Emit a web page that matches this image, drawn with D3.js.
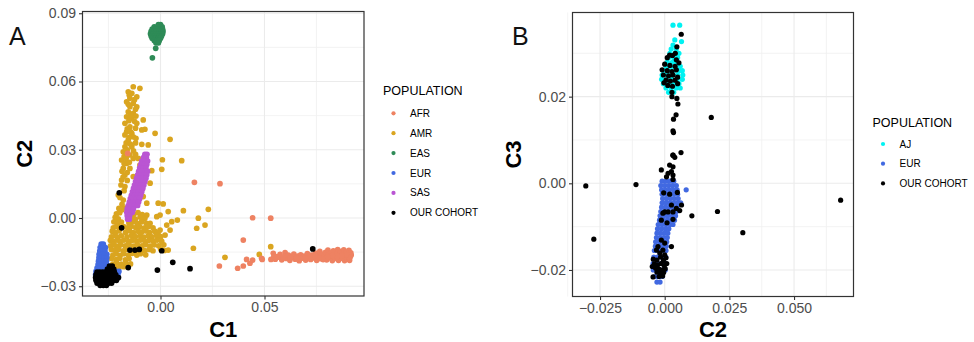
<!DOCTYPE html>
<html>
<head>
<meta charset="utf-8">
<script src="https://cdn.jsdelivr.net/npm/d3@7"></script>
<style>
  body { margin: 0; background: #fff; }
  svg { display: block; font-family: "Liberation Sans", Arial, Helvetica, sans-serif; }
</style>
</head>
<body>
<svg id="chart" width="974" height="342"></svg>
<script>
// ---------------- Panel A: C1 vs C2, 1000 Genomes super-populations + cohort ----------------
const popsA = ["AFR", "AMR", "EAS", "EUR", "SAS", "OUR COHORT"];

const afrA = [
  [0.0371,-0.0221],[0.0398,-0.0211],[0.0430,-0.0199],[0.0443,-0.0185],[0.0489,-0.0182],
  [0.0398,-0.0097],[0.0531,-0.0182],[0.0283,-0.0211],[0.0443,0.0001],[0.0530,-0.0001],
  [0.0163,0.0157],[0.0286,0.0151],[-0.0158,0.0284],[0.0414,-0.0182],[0.0486,-0.0177],
  [0.0542,-0.0155],[0.0599,-0.0152],
  [0.0545,-0.0168],[0.0552,-0.0181],[0.0568,-0.0172],[0.0575,-0.0160],[0.0583,-0.0184],[0.0597,-0.0170],
  [0.0606,-0.0178],[0.0615,-0.0163],[0.0622,-0.0186],[0.0633,-0.0172],[0.0641,-0.0159],[0.0648,-0.0181],
  [0.0659,-0.0168],[0.0667,-0.0188],[0.0674,-0.0162],[0.0682,-0.0176],[0.0691,-0.0167],[0.0698,-0.0185],
  [0.0706,-0.0157],[0.0713,-0.0173],[0.0722,-0.0182],[0.0729,-0.0163],[0.0737,-0.0175],[0.0745,-0.0154],
  [0.0751,-0.0186],[0.0758,-0.0168],[0.0766,-0.0147],[0.0772,-0.0179],[0.0779,-0.0160],[0.0786,-0.0170],
  [0.0793,-0.0151],[0.0799,-0.0184],[0.0805,-0.0141],[0.0808,-0.0164],[0.0814,-0.0175],[0.0820,-0.0153],
  [0.0826,-0.0187],[0.0831,-0.0144],[0.0835,-0.0167],[0.0841,-0.0178],[0.0847,-0.0156],[0.0852,-0.0139],
  [0.0856,-0.0186],[0.0861,-0.0168],[0.0866,-0.0148],[0.0871,-0.0177],[0.0876,-0.0159],[0.0881,-0.0140],
  [0.0885,-0.0187],[0.0889,-0.0169],[0.0893,-0.0150],[0.0897,-0.0180],[0.0902,-0.0160],[0.0906,-0.0142],
  [0.0909,-0.0186],[0.0912,-0.0171],[0.0915,-0.0153],[0.0917,-0.0163],[0.0907,-0.0172],[0.0893,-0.0162],
  [0.0872,-0.0166],[0.0849,-0.0168],[0.0826,-0.0165],[0.0803,-0.0173],[0.0782,-0.0183],[0.0762,-0.0176],
  [0.0741,-0.0165],[0.0718,-0.0164],[0.0695,-0.0176],[0.0671,-0.0178],[0.0655,-0.0176],[0.0625,-0.0175],
  [0.0590,-0.0176],[0.0560,-0.0170]
];

const amrA = [
  [-0.0131,0.0577],[-0.0099,0.0570],[-0.0155,0.0555],[-0.0138,0.0548],[-0.0114,0.0533],[-0.0147,0.0526],
  [-0.0163,0.0511],[-0.0131,0.0504],[-0.0147,0.0489],[-0.0114,0.0489],[-0.0155,0.0467],[-0.0131,0.0460],
  [-0.0163,0.0445],[-0.0138,0.0438],[-0.0114,0.0416],[-0.0083,0.0431],[-0.0171,0.0416],[-0.0147,0.0401],
  [-0.0075,0.0390],[-0.0090,0.0387],[-0.0163,0.0379],[-0.0138,0.0372],[-0.0171,0.0365],[-0.0131,0.0357],
  [-0.0026,0.0372],[0.0046,0.0346],[-0.0155,0.0343],[-0.0090,0.0324],[-0.0059,0.0321],[-0.0171,0.0313],
  [-0.0138,0.0313],[-0.0179,0.0291],[-0.0147,0.0277],[-0.0187,0.0255],[-0.0163,0.0240],[-0.0131,0.0262],
  [-0.0107,0.0262],[-0.0099,0.0233],[-0.0179,0.0218],[-0.0147,0.0218],[-0.0042,0.0208],[0.0006,0.0214],
  [0.0102,0.0252],[0.0009,0.0256],[-0.0171,0.0189],[-0.0131,0.0182],[-0.0187,0.0167],[-0.0050,0.0153],
  [-0.0171,0.0138],[-0.0203,0.0101],[-0.0083,0.0094],[-0.0179,0.0079],[-0.0066,0.0065],[-0.0011,0.0065],
  [0.0013,0.0062],
  [-0.0150,0.0540],[-0.0125,0.0520],[-0.0155,0.0500],[-0.0120,0.0478],[-0.0145,0.0452],[-0.0118,0.0448],
  [-0.0152,0.0428],[-0.0125,0.0425],[-0.0160,0.0392],[-0.0120,0.0395],[-0.0145,0.0380],[-0.0150,0.0355],
  [-0.0118,0.0350],[-0.0165,0.0330],[-0.0145,0.0325],[-0.0120,0.0330],[-0.0160,0.0300],[-0.0130,0.0295],
  [-0.0175,0.0270],[-0.0120,0.0280],[-0.0165,0.0262],[-0.0175,0.0240],[-0.0150,0.0245],[-0.0185,0.0205],
  [-0.0160,0.0200],[-0.0180,0.0180],[-0.0160,0.0165],[-0.0190,0.0145],[-0.0175,0.0120],[-0.0195,0.0090],
  [-0.0185,0.0060],
  [0.0037,0.0028],[0.0110,0.0032],[0.0230,0.0038],[0.0081,-0.0009],[0.0182,-0.0001],[0.0214,-0.0031],
  [0.0174,-0.0045],[0.0030,-0.0031],[0.0054,-0.0016],[-0.0018,0.0006],[-0.0002,0.0013],[-0.0066,0.0013],
  [-0.0075,-0.0001],[-0.0050,-0.0023],[-0.0002,-0.0053],[0.0046,-0.0053],[0.0022,-0.0075],[0.0158,-0.0133],
  [0.0037,-0.0141],[0.0310,-0.0173],[0.0530,-0.0126],[0.0475,-0.0160],
  [-0.0200,0.0042],[-0.0186,0.0036],[-0.0171,0.0044],
  [-0.0212,0.0018],[-0.0196,0.0023],[-0.0128,0.0017],[-0.0108,0.0024],[-0.0088,0.0015],
  [-0.0218,0.0003],[-0.0203,-0.0004],[-0.0138,0.0002],[-0.0121,-0.0005],[-0.0098,0.0004],[-0.0082,-0.0003],
  [-0.0224,-0.0017],[-0.0207,-0.0024],[-0.0188,-0.0018],[-0.0152,-0.0022],[-0.0133,-0.0016],[-0.0112,-0.0023],
  [-0.0091,-0.0017],[-0.0068,-0.0024],
  [-0.0227,-0.0043],[-0.0211,-0.0037],[-0.0193,-0.0044],[-0.0177,-0.0038],[-0.0158,-0.0043],[-0.0141,-0.0036],
  [-0.0119,-0.0042],[-0.0101,-0.0038],[-0.0079,-0.0044],[-0.0058,-0.0037],[-0.0036,-0.0043],
  [-0.0232,-0.0058],[-0.0217,-0.0064],[-0.0199,-0.0057],[-0.0168,-0.0063],[-0.0149,-0.0056],[-0.0131,-0.0064],
  [-0.0108,-0.0058],[-0.0091,-0.0062],[-0.0069,-0.0057],[-0.0052,-0.0064],[-0.0028,-0.0058],[-0.0011,-0.0063],
  [-0.0236,-0.0083],[-0.0219,-0.0077],[-0.0206,-0.0084],[-0.0188,-0.0078],[-0.0161,-0.0083],[-0.0139,-0.0076],
  [-0.0121,-0.0082],[-0.0098,-0.0077],[-0.0081,-0.0084],[-0.0059,-0.0078],[-0.0041,-0.0083],[-0.0019,-0.0076],
  [0.0001,-0.0082],
  [-0.0241,-0.0098],[-0.0226,-0.0104],[-0.0209,-0.0097],[-0.0194,-0.0103],[-0.0176,-0.0097],[-0.0154,-0.0104],
  [-0.0136,-0.0098],[-0.0114,-0.0103],[-0.0096,-0.0097],[-0.0074,-0.0104],[-0.0056,-0.0098],[-0.0034,-0.0102],
  [-0.0016,-0.0097],[0.0006,-0.0103],
  [-0.0240,-0.0123],[-0.0224,-0.0117],[-0.0211,-0.0124],[-0.0191,-0.0118],[-0.0169,-0.0123],[-0.0151,-0.0117],
  [-0.0129,-0.0124],[-0.0111,-0.0118],[-0.0089,-0.0123],[-0.0071,-0.0117],[-0.0049,-0.0124],[-0.0031,-0.0118],
  [-0.0009,-0.0122],[0.0016,-0.0118],
  [-0.0236,-0.0138],[-0.0217,-0.0143],[-0.0201,-0.0137],[-0.0179,-0.0144],[-0.0161,-0.0137],[-0.0116,-0.0144],
  [-0.0094,-0.0137],[-0.0076,-0.0143],[-0.0054,-0.0138],[-0.0036,-0.0144],[0.0001,-0.0137],[0.0019,-0.0143],
  [-0.0229,-0.0163],[-0.0213,-0.0157],[-0.0194,-0.0164],[-0.0176,-0.0157],[-0.0154,-0.0163],[-0.0136,-0.0156],
  [-0.0114,-0.0163],[-0.0096,-0.0157],[-0.0071,-0.0162],
  [-0.0236,-0.0178],[-0.0214,-0.0183],[-0.0196,-0.0177],[-0.0169,-0.0184],[-0.0151,-0.0178],
  [-0.0229,-0.0203],[-0.0211,-0.0197],[-0.0189,-0.0203],[-0.0166,-0.0198],[-0.0144,-0.0202],
  [-0.0221,-0.0213],[-0.0199,-0.0218],[-0.0176,-0.0214]
];

const easA = [
  [-0.0010,0.0850],[0.0000,0.0850],
  [-0.0030,0.0840],[-0.0015,0.0840],[0.0000,0.0840],[0.0008,0.0840],
  [-0.0040,0.0830],[-0.0025,0.0830],[-0.0012,0.0830],[0.0000,0.0830],[0.0010,0.0830],
  [-0.0045,0.0820],[-0.0032,0.0820],[-0.0020,0.0820],[-0.0008,0.0820],[0.0003,0.0820],[0.0012,0.0820],
  [-0.0048,0.0810],[-0.0035,0.0810],[-0.0022,0.0810],[-0.0010,0.0810],[0.0002,0.0810],[0.0010,0.0810],
  [-0.0045,0.0800],[-0.0030,0.0800],[-0.0018,0.0800],[-0.0005,0.0800],[0.0005,0.0800],
  [-0.0040,0.0790],[-0.0025,0.0790],[-0.0012,0.0790],[0.0000,0.0790],
  [-0.0030,0.0780],[-0.0018,0.0780],[-0.0006,0.0780],
  [-0.0022,0.0770],[-0.0010,0.0770],
  [-0.0023,0.0746],[-0.0039,0.0704]
];

const eurA = [
  [-0.0285,-0.0115],[-0.0275,-0.0115],
  [-0.0290,-0.0130],[-0.0278,-0.0130],[-0.0265,-0.0130],
  [-0.0292,-0.0145],[-0.0280,-0.0145],[-0.0267,-0.0145],
  [-0.0295,-0.0160],[-0.0282,-0.0160],[-0.0268,-0.0160],[-0.0258,-0.0160],
  [-0.0296,-0.0175],[-0.0283,-0.0175],[-0.0270,-0.0175],[-0.0258,-0.0175],
  [-0.0298,-0.0190],[-0.0285,-0.0190],[-0.0272,-0.0190],[-0.0260,-0.0190],
  [-0.0300,-0.0205],[-0.0287,-0.0205],[-0.0273,-0.0205],[-0.0260,-0.0205],
  [-0.0305,-0.0220],[-0.0290,-0.0220],[-0.0275,-0.0220],[-0.0262,-0.0220],
  [-0.0310,-0.0235],[-0.0295,-0.0235],[-0.0278,-0.0235],[-0.0255,-0.0235],[-0.0215,-0.0235],[-0.0200,-0.0235],
  [-0.0312,-0.0250],[-0.0300,-0.0250],[-0.0205,-0.0250],
  [-0.0210,-0.0265]
];

const sasA = [
  [-0.0075,0.0280],[-0.0065,0.0280],
  [-0.0082,0.0265],[-0.0068,0.0265],
  [-0.0090,0.0250],[-0.0075,0.0250],[-0.0062,0.0250],
  [-0.0095,0.0235],[-0.0080,0.0235],[-0.0066,0.0235],
  [-0.0100,0.0220],[-0.0085,0.0220],[-0.0070,0.0220],
  [-0.0105,0.0205],[-0.0090,0.0205],[-0.0075,0.0205],[-0.0062,0.0205],
  [-0.0110,0.0190],[-0.0095,0.0190],[-0.0080,0.0190],[-0.0066,0.0190],
  [-0.0115,0.0175],[-0.0100,0.0175],[-0.0085,0.0175],[-0.0070,0.0175],
  [-0.0120,0.0160],[-0.0105,0.0160],[-0.0090,0.0160],[-0.0075,0.0160],
  [-0.0125,0.0145],[-0.0110,0.0145],[-0.0095,0.0145],[-0.0080,0.0145],
  [-0.0130,0.0130],[-0.0115,0.0130],[-0.0100,0.0130],[-0.0085,0.0130],
  [-0.0135,0.0115],[-0.0120,0.0115],[-0.0105,0.0115],[-0.0090,0.0115],
  [-0.0140,0.0100],[-0.0125,0.0100],[-0.0110,0.0100],[-0.0095,0.0100],
  [-0.0145,0.0085],[-0.0130,0.0085],[-0.0115,0.0085],[-0.0100,0.0085],
  [-0.0150,0.0070],[-0.0135,0.0070],[-0.0120,0.0070],[-0.0105,0.0070],
  [-0.0155,0.0055],[-0.0140,0.0055],[-0.0125,0.0055],[-0.0110,0.0055],
  [-0.0160,0.0040],[-0.0145,0.0040],[-0.0130,0.0040],
  [-0.0162,0.0025],[-0.0148,0.0025],[-0.0135,0.0025],
  [-0.0160,0.0010],[-0.0148,0.0010],
  [-0.0158,-0.0005],[-0.0150,-0.0005]
];

const cohortA = [
  [-0.0198,0.0111],[-0.0187,-0.0043],[-0.0147,-0.0141],[-0.0123,-0.0141],[-0.0102,-0.0138],
  [0.0006,-0.0144],[0.0059,-0.0195],[-0.0155,-0.0218],[-0.0015,-0.0229],[0.0142,-0.0223],[0.0732,-0.0136],
  [-0.0245,-0.0211],[-0.0232,-0.0211],
  [-0.0255,-0.0225],[-0.0240,-0.0225],[-0.0225,-0.0225],
  [-0.0305,-0.0238],[-0.0292,-0.0238],[-0.0278,-0.0238],[-0.0265,-0.0238],[-0.0250,-0.0238],[-0.0235,-0.0238],[-0.0222,-0.0238],
  [-0.0310,-0.0250],[-0.0297,-0.0250],[-0.0283,-0.0250],[-0.0270,-0.0250],[-0.0256,-0.0250],[-0.0242,-0.0250],[-0.0228,-0.0250],[-0.0215,-0.0250],
  [-0.0312,-0.0262],[-0.0298,-0.0262],[-0.0284,-0.0262],[-0.0270,-0.0262],[-0.0256,-0.0262],[-0.0242,-0.0262],[-0.0228,-0.0262],[-0.0214,-0.0262],[-0.0202,-0.0262],
  [-0.0310,-0.0274],[-0.0296,-0.0274],[-0.0282,-0.0274],[-0.0268,-0.0274],[-0.0254,-0.0274],[-0.0240,-0.0274],[-0.0226,-0.0274],[-0.0212,-0.0274],
  [-0.0305,-0.0286],[-0.0291,-0.0286],[-0.0277,-0.0286],[-0.0263,-0.0286],[-0.0249,-0.0286],[-0.0235,-0.0286],
  [-0.0290,-0.0296],[-0.0275,-0.0296],[-0.0260,-0.0296]
];

const ticksAx = [0.00, 0.05];
const tickLabelsAx = ["0.00", "0.05"];
const minorAx = [-0.025, 0.025, 0.075];
const ticksAy = [-0.03, 0.00, 0.03, 0.06, 0.09];
const tickLabelsAy = ["\u22120.03", "0.00", "0.03", "0.06", "0.09"];
const minorAy = [-0.015, 0.015, 0.045, 0.075];

// ---------------- Panel B: C2 vs C3, Ashkenazi / European reference + cohort ----------------
const popsB = ["AJ", "EUR", "OUR COHORT"];

const ajB = [
  [0.0032,0.0365],[0.0058,0.0365],[0.0039,0.0331],[0.0065,0.0327],[0.0032,0.0319],
  [0.0025,0.0310],[0.0045,0.0310],
  [0.0020,0.0300],[0.0040,0.0300],[0.0055,0.0300],
  [0.0015,0.0290],[0.0035,0.0290],[0.0050,0.0290],
  [0.0010,0.0280],[0.0030,0.0280],[0.0045,0.0280],
  [0.0005,0.0270],[0.0025,0.0270],[0.0045,0.0270],[0.0060,0.0270],
  [-0.0005,0.0260],[0.0015,0.0260],[0.0035,0.0260],[0.0055,0.0260],[0.0068,0.0260],
  [-0.0010,0.0250],[0.0010,0.0250],[0.0030,0.0250],[0.0050,0.0250],[0.0070,0.0250],
  [-0.0012,0.0240],[0.0008,0.0240],[0.0028,0.0240],[0.0048,0.0240],[0.0068,0.0240],
  [-0.0005,0.0230],[0.0015,0.0230],[0.0035,0.0230],[0.0055,0.0230],
  [0.0005,0.0220],[0.0025,0.0220],[0.0045,0.0220],[0.0060,0.0220],
  [0.0015,0.0210],[0.0035,0.0210]
];

const eurB = [
  [-0.0010,0.0005],[0.0005,0.0005],[0.0020,0.0005],[0.0035,0.0005],
  [-0.0015,-0.0005],[0.0000,-0.0005],[0.0015,-0.0005],[0.0030,-0.0005],[0.0045,-0.0005],
  [-0.0012,-0.0015],[0.0003,-0.0015],[0.0018,-0.0015],[0.0033,-0.0015],[0.0048,-0.0015],[0.0083,-0.0015],
  [-0.0010,-0.0025],[0.0005,-0.0025],[0.0020,-0.0025],[0.0035,-0.0025],[0.0050,-0.0025],
  [-0.0008,-0.0035],[0.0007,-0.0035],[0.0022,-0.0035],[0.0037,-0.0035],[0.0052,-0.0035],
  [-0.0010,-0.0045],[0.0005,-0.0045],[0.0020,-0.0045],[0.0035,-0.0045],[0.0050,-0.0045],[0.0062,-0.0045],
  [-0.0012,-0.0055],[0.0003,-0.0055],[0.0018,-0.0055],[0.0033,-0.0055],[0.0048,-0.0055],
  [-0.0015,-0.0065],[0.0000,-0.0065],[0.0015,-0.0065],[0.0030,-0.0065],[0.0045,-0.0065],
  [-0.0018,-0.0075],[-0.0003,-0.0075],[0.0012,-0.0075],[0.0027,-0.0075],[0.0042,-0.0075],
  [-0.0020,-0.0085],[-0.0005,-0.0085],[0.0010,-0.0085],[0.0025,-0.0085],[0.0038,-0.0085],
  [-0.0025,-0.0095],[-0.0010,-0.0095],[0.0005,-0.0095],[0.0020,-0.0095],[0.0032,-0.0095],
  [-0.0028,-0.0105],[-0.0013,-0.0105],[0.0002,-0.0105],[0.0016,-0.0105],
  [-0.0030,-0.0115],[-0.0015,-0.0115],[0.0000,-0.0115],[0.0012,-0.0115],
  [-0.0032,-0.0125],[-0.0018,-0.0125],[-0.0004,-0.0125],[0.0010,-0.0125],
  [-0.0035,-0.0135],[-0.0020,-0.0135],[-0.0006,-0.0135],[0.0008,-0.0135],
  [-0.0036,-0.0145],[-0.0022,-0.0145],[-0.0008,-0.0145],[0.0006,-0.0145],
  [-0.0040,-0.0155],[-0.0025,-0.0155],[-0.0010,-0.0155],[0.0005,-0.0155],
  [-0.0042,-0.0170],[-0.0028,-0.0170],[-0.0012,-0.0170],[0.0004,-0.0170],
  [-0.0045,-0.0185],[-0.0030,-0.0185],[-0.0015,-0.0185],[0.0003,-0.0185],
  [-0.0044,-0.0200],[-0.0030,-0.0200],[-0.0015,-0.0200],[0.0002,-0.0200],
  [-0.0038,-0.0215],[-0.0025,-0.0215],[-0.0010,-0.0215],
  [-0.0030,-0.0228],[-0.0018,-0.0228]
];

const cohortB = [
  [0.0064,0.0344],[0.0047,0.0315],[0.0041,0.0300],[0.0028,0.0200],[0.0047,0.0196],[0.0051,0.0183],
  [0.0044,0.0158],[0.0034,0.0148],[0.0032,0.0121],[0.0034,0.0117],[0.0180,0.0152],[0.0032,0.0065],
  [0.0063,0.0071],[-0.0305,-0.0006],[-0.0111,-0.0003],[-0.0274,-0.0129],[0.0680,-0.0039],
  [0.0204,-0.0065],[0.0105,-0.0075],[0.0302,-0.0114],
  [0.0010,0.0290],[0.0030,0.0295],[0.0045,0.0285],[0.0000,0.0275],[0.0020,0.0272],[0.0040,0.0270],
  [0.0055,0.0278],[-0.0010,0.0262],[0.0010,0.0260],[0.0028,0.0258],[0.0045,0.0262],[-0.0005,0.0250],
  [0.0015,0.0248],[0.0032,0.0250],[0.0050,0.0245],[0.0005,0.0238],[0.0022,0.0236],[0.0040,0.0238],
  [0.0012,0.0226],[0.0030,0.0224],[0.0050,0.0230],[0.0028,0.0210],[0.0019,0.0296],[-0.0003,0.0232],
  [0.0032,0.0065],[0.0039,0.0060],
  [0.0019,0.0042],[0.0032,0.0038],[-0.0013,0.0031],[0.0026,0.0027],[0.0013,0.0023],[0.0032,0.0019],
  [0.0007,0.0015],[0.0032,0.0009],
  [-0.0004,-0.0022],[0.0019,-0.0025],[0.0049,-0.0021],
  [0.0026,-0.0050],[0.0065,-0.0050],[0.0045,-0.0058],
  [0.0000,-0.0066],[-0.0007,-0.0069],[0.0013,-0.0066],[0.0032,-0.0066],[0.0058,-0.0063],
  [-0.0013,-0.0085],[0.0009,-0.0091],[0.0032,-0.0083],
  [-0.0013,-0.0131],[-0.0026,-0.0146],[0.0000,-0.0138],[0.0026,-0.0146],
  [-0.0032,-0.0154],[-0.0019,-0.0161],[-0.0007,-0.0154],[0.0000,-0.0165],
  [-0.0044,-0.0175],[-0.0030,-0.0177],[-0.0016,-0.0170],[-0.0005,-0.0178],[0.0005,-0.0172],
  [-0.0040,-0.0186],[-0.0027,-0.0188],[-0.0014,-0.0185],[-0.0002,-0.0190],[0.0008,-0.0185],
  [-0.0048,-0.0192],[-0.0035,-0.0196],[-0.0022,-0.0198],[-0.0010,-0.0200],[0.0002,-0.0197],
  [-0.0030,-0.0205],[-0.0016,-0.0208],[-0.0004,-0.0206],
  [-0.0022,-0.0215],[-0.0008,-0.0214],[-0.0045,-0.0216]
];

const ticksBx = [-0.025, 0.000, 0.025, 0.050];
const tickLabelsBx = ["\u22120.025", "0.000", "0.025", "0.050"];
const minorBx = [-0.0375, -0.0125, 0.0125, 0.0375, 0.0625];
const ticksBy = [-0.02, 0.00, 0.02];
const tickLabelsBy = ["\u22120.02", "0.00", "0.02"];
const minorBy = [-0.01, 0.01, 0.03];

// ---------------- styling ----------------
const popColor = {
  "AFR": "#EE8262",
  "AMR": "#DAA520",
  "EAS": "#2E8B57",
  "EUR": "#4169E1",
  "SAS": "#BA55D3",
  "AJ": "#00F2F2",
  "OUR COHORT": "#000000"
};

const svg = d3.select("#chart");

function drawPanel(cfg) {
  const x = d3.scaleLinear().domain(cfg.xDomain).range([cfg.box.x0, cfg.box.x1]);
  const y = d3.scaleLinear().domain(cfg.yDomain).range([cfg.box.y1, cfg.box.y0]);
  const g = svg.append("g");

  g.append("rect")
    .attr("x", cfg.box.x0).attr("y", cfg.box.y0)
    .attr("width", cfg.box.x1 - cfg.box.x0).attr("height", cfg.box.y1 - cfg.box.y0)
    .attr("fill", "#fff");

  // minor grid
  g.selectAll(null).data(cfg.xMinor).join("line")
    .attr("x1", d => x(d)).attr("x2", d => x(d))
    .attr("y1", cfg.box.y0).attr("y2", cfg.box.y1)
    .attr("stroke", "#F0F0F0").attr("stroke-width", 0.8);
  g.selectAll(null).data(cfg.yMinor).join("line")
    .attr("y1", d => y(d)).attr("y2", d => y(d))
    .attr("x1", cfg.box.x0).attr("x2", cfg.box.x1)
    .attr("stroke", "#F0F0F0").attr("stroke-width", 0.8);
  // major grid
  g.selectAll(null).data(cfg.xTicks).join("line")
    .attr("x1", d => x(d)).attr("x2", d => x(d))
    .attr("y1", cfg.box.y0).attr("y2", cfg.box.y1)
    .attr("stroke", "#EBEBEB").attr("stroke-width", 1.1);
  g.selectAll(null).data(cfg.yTicks).join("line")
    .attr("y1", d => y(d)).attr("y2", d => y(d))
    .attr("x1", cfg.box.x0).attr("x2", cfg.box.x1)
    .attr("stroke", "#EBEBEB").attr("stroke-width", 1.1);

  // points
  cfg.series.forEach(s => {
    g.append("g").selectAll("circle").data(s.data).join("circle")
      .attr("cx", d => x(d[0])).attr("cy", d => y(d[1]))
      .attr("r", cfg.r).attr("fill", popColor[s.pop]);
  });

  // border
  g.append("rect")
    .attr("x", cfg.box.x0).attr("y", cfg.box.y0)
    .attr("width", cfg.box.x1 - cfg.box.x0).attr("height", cfg.box.y1 - cfg.box.y0)
    .attr("fill", "none").attr("stroke", "#333333").attr("stroke-width", 1.2);

  // axes
  const xAxis = d3.axisBottom(x).tickValues(cfg.xTicks)
    .tickFormat((d, i) => cfg.xLabels[i]).tickSize(3.5).tickPadding(3);
  const yAxis = d3.axisLeft(y).tickValues(cfg.yTicks)
    .tickFormat((d, i) => cfg.yLabels[i]).tickSize(3.5).tickPadding(3);
  const gx = g.append("g").attr("transform", `translate(0,${cfg.box.y1})`).call(xAxis);
  const gy = g.append("g").attr("transform", `translate(${cfg.box.x0},0)`).call(yAxis);
  [gx, gy].forEach(a => {
    a.select(".domain").remove();
    a.selectAll(".tick line").attr("stroke", "#333333").attr("stroke-width", 1.1);
    a.selectAll(".tick text").attr("fill", "#4D4D4D")
      .style("font-size", "14px").style("font-family", "Liberation Sans, Arial, sans-serif");
  });

  // axis titles
  g.append("text")
    .attr("x", (cfg.box.x0 + cfg.box.x1) / 2).attr("y", 337)
    .attr("text-anchor", "middle").attr("font-weight", "bold").attr("font-size", 22)
    .text(cfg.xTitle);
  g.append("text")
    .attr("transform", `translate(${cfg.yTitleX},${(cfg.box.y0 + cfg.box.y1) / 2}) rotate(-90)`)
    .attr("text-anchor", "middle").attr("dy", "0.35em")
    .attr("font-weight", "bold").attr("font-size", 22)
    .text(cfg.yTitle);

  // panel letter
  g.append("text")
    .attr("x", cfg.letterX).attr("y", 45)
    .attr("font-size", 25).attr("fill", "#111")
    .text(cfg.letter);

  // legend
  const lg = g.append("g");
  lg.append("text")
    .attr("x", cfg.legend.x).attr("y", cfg.legend.titleY)
    .attr("font-size", 12.5).attr("fill", "#000")
    .text("POPULATION");
  const items = lg.selectAll("g.item").data(cfg.legend.pops).join("g")
    .attr("class", "item")
    .attr("transform", (d, i) => `translate(${cfg.legend.x},${cfg.legend.firstY + i * cfg.legend.step})`);
  items.append("circle").attr("cx", 10.5).attr("cy", 0).attr("r", 2.1)
    .attr("fill", d => popColor[d]);
  items.append("text").attr("x", 27).attr("y", 0).attr("dy", "0.35em")
    .attr("font-size", 10).attr("fill", "#000")
    .text(d => d);
}

drawPanel({
  box: { x0: 82.5, x1: 364, y0: 11.5, y1: 296 },
  xDomain: [-0.0375, 0.09784],
  yDomain: [-0.03429, 0.09077],
  xTicks: ticksAx, xLabels: tickLabelsAx, xMinor: minorAx,
  yTicks: ticksAy, yLabels: tickLabelsAy, yMinor: minorAy,
  xTitle: "C1", yTitle: "C2", yTitleX: 24.5,
  letter: "A", letterX: 9,
  r: 2.85,
  series: [
    { pop: "AMR", data: amrA },
    { pop: "AFR", data: afrA },
    { pop: "EAS", data: easA },
    { pop: "EUR", data: eurA },
    { pop: "SAS", data: sasA },
    { pop: "OUR COHORT", data: cohortA }
  ],
  legend: { x: 383, titleY: 94.5, firstY: 113.3, step: 19.9, pops: popsA }
});

drawPanel({
  box: { x0: 572.5, x1: 853.5, y0: 12.5, y1: 296.5 },
  xDomain: [-0.03564, 0.07298],
  yDomain: [-0.02612, 0.03942],
  xTicks: ticksBx, xLabels: tickLabelsBx, xMinor: minorBx,
  yTicks: ticksBy, yLabels: tickLabelsBy, yMinor: minorBy,
  xTitle: "C2", yTitle: "C3", yTitleX: 513.5,
  letter: "B", letterX: 512,
  r: 2.6,
  series: [
    { pop: "AJ", data: ajB },
    { pop: "EUR", data: eurB },
    { pop: "OUR COHORT", data: cohortB }
  ],
  legend: { x: 872.5, titleY: 127, firstY: 144, step: 19.7, pops: popsB }
});
</script>
</body>
</html>
